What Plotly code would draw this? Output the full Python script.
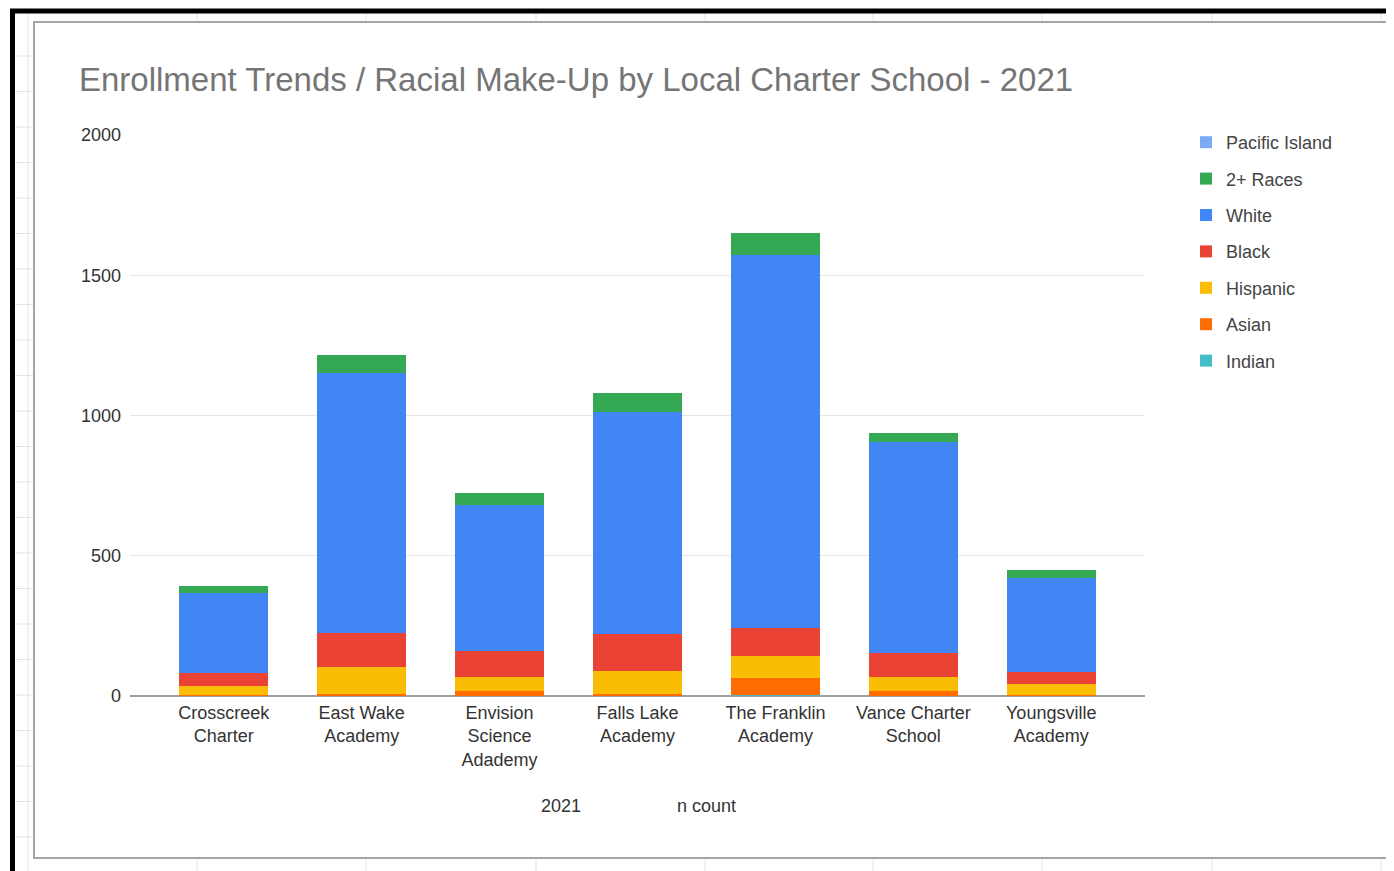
import plotly.graph_objects as go

schools = ["Crosscreek<br>Charter", "East Wake<br>Academy", "Envision<br>Science<br>Adademy",
           "Falls Lake<br>Academy", "The Franklin<br>Academy", "Vance Charter<br>School",
           "Youngsville<br>Academy"]

# stacked bottom -> top
indian = [0, 1, 1, 3, 2, 1, 0]
asian = [3, 7, 16, 3, 62, 16, 3]
hispanic = [33, 95, 51, 83, 79, 51, 40]
black = [46, 122, 92, 132, 99, 85, 43]
white = [285, 927, 521, 791, 1330, 753, 335]
two_plus = [26, 62, 41, 70, 77, 33, 29]
pacific = [0, 0, 0, 0, 0, 0, 0]

series_names = ["Indian", "Asian", "Hispanic", "Black", "White", "2+ Races", "Pacific Island"]
series_values = [indian, asian, hispanic, black, white, two_plus, pacific]
series_colors = ["#46BDC6", "#FF6D01", "#FBBC04", "#EA4335", "#4285F4", "#34A853", "#7BAAF7"]

y_ticks = [0, 500, 1000, 1500, 2000]

# page body has an 8px margin; figure is sized to fill the rest of the window
OFF = 8
W, H = 1394 - OFF, 871 - OFF
ML, MT = 130 - OFF, 135 - OFF
PW, PH = 1015, 561
MR, MB = W - ML - PW, H - MT - PH
FONT = "Liberation Sans, Arial"


def px(x):  # window pixel -> paper
    return (x - 130) / PW


def py(y):
    return (696 - y) / PH


fig = go.Figure()
n = len(series_names)
for i, (name, vals, col) in enumerate(zip(series_names, series_values, series_colors)):
    fig.add_trace(go.Bar(x=schools, y=vals, name=name, marker_color=col,
                         marker_line_width=0, legendgroup=name, legendrank=n - i))

shapes = []
grid_col = "#e3e3e3"
yy = 56.0
while yy < 871:
    shapes.append(dict(type="line", xref="paper", yref="paper", x0=px(15), x1=px(33),
                       y0=py(yy), y1=py(yy), line=dict(color=grid_col, width=1)))
    shapes.append(dict(type="line", xref="paper", yref="paper", x0=px(1389), x1=px(1394),
                       y0=py(yy), y1=py(yy), line=dict(color=grid_col, width=1)))
    yy += 35.5
for xx in [28, 197, 366, 536, 705, 873, 1042, 1212, 1381]:
    if xx == 28:
        shapes.append(dict(type="line", xref="paper", yref="paper", x0=px(xx), x1=px(xx),
                           y0=py(13), y1=py(871), line=dict(color=grid_col, width=1)))
    else:
        shapes.append(dict(type="line", xref="paper", yref="paper", x0=px(xx), x1=px(xx),
                           y0=py(13), y1=py(21), line=dict(color=grid_col, width=1)))
        shapes.append(dict(type="line", xref="paper", yref="paper", x0=px(xx), x1=px(xx),
                           y0=py(859), y1=py(871), line=dict(color=grid_col, width=1)))
shapes.append(dict(type="rect", xref="paper", yref="paper", x0=px(34), x1=px(1387),
                   y0=py(22), y1=py(858), line=dict(color="#a6a6a6", width=2)))
shapes.append(dict(type="line", xref="paper", yref="paper", x0=px(12.5), x1=px(12.5),
                   y0=py(9), y1=py(875), line=dict(color="#000000", width=5)))
shapes.append(dict(type="line", xref="paper", yref="paper", x0=px(10), x1=px(1400),
                   y0=py(11), y1=py(11), line=dict(color="#000000", width=5)))

annotations = [
    dict(text="Enrollment Trends / Racial Make-Up by Local Charter School - 2021",
         xref="paper", yref="paper", x=px(77), y=py(80), xanchor="left", yanchor="middle",
         showarrow=False, font=dict(family=FONT, size=33, color="#757575")),
    dict(text="2021", xref="paper", yref="paper", x=px(561), y=py(806),
         xanchor="center", yanchor="middle", showarrow=False,
         font=dict(family=FONT, size=18, color="#333333")),
    dict(text="n count", xref="paper", yref="paper", x=px(706), y=py(806),
         xanchor="center", yanchor="middle", showarrow=False,
         font=dict(family=FONT, size=18, color="#333333")),
]

fig.update_layout(
    width=W, height=H,
    margin=dict(l=ML, r=MR, t=MT, b=MB, pad=0),
    paper_bgcolor="white", plot_bgcolor="white",
    barmode="stack", bargap=0.355,
    font=dict(family=FONT, color="#444444"),
    shapes=shapes, annotations=annotations,
    legend=dict(traceorder="grouped", tracegroupgap=10,
                x=px(1186), xanchor="left", y=py(124), yanchor="top",
                font=dict(family=FONT, size=18, color="#444444"),
                bgcolor="rgba(0,0,0,0)"),
    xaxis=dict(range=[-0.68, 6.68], showgrid=False, showline=False, ticks="",
               tickfont=dict(family=FONT, size=18, color="#333333"),
               tickangle=0, ticklabelstandoff=4),
    yaxis=dict(range=[0, 2000], tickvals=y_ticks, showgrid=True, gridcolor="#e6e6e6",
               gridwidth=1, zeroline=True, zerolinecolor="#9e9e9e", zerolinewidth=2,
               showline=False, ticks="", ticklabelstandoff=8,
               tickfont=dict(family=FONT, size=18, color="#333333")),
)

fig.write_html("out.html")
